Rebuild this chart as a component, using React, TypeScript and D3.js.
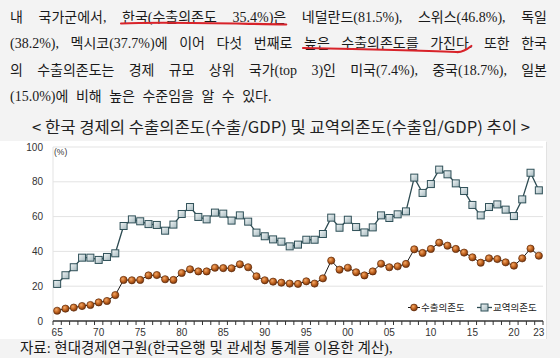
import React, { useRef, useEffect } from 'react';
import * as d3 from 'd3';

// 1965 ~ 2023
const years = d3.range(1965, 2024);

// 수출의존도 (수출/GDP, %)
const exportRatio = [
  5.9, 7.1, 7.7, 8.6, 9.2, 10.7, 11.5, 14.9, 23.6, 23.4,
  23.6, 26.2, 26.4, 24.0, 23.6, 27.6, 29.7, 28.5, 28.5, 30.6,
  30.4, 30.3, 32.6, 30.9, 25.7, 23.4, 22.6, 22.0, 21.5, 21.3,
  22.8, 21.5, 24.5, 34.7, 29.5, 30.6, 28.0, 26.2, 28.5, 32.9,
  30.9, 31.4, 32.8, 41.2, 39.1, 41.4, 45.0, 43.3, 41.4, 39.3,
  36.6, 33.5, 36.0, 35.6, 33.7, 31.8, 36.0, 41.6, 37.5,
];

// 교역의존도 (수출입/GDP, %)
const tradeRatio = [
  21.3, 26.3, 30.9, 36.4, 36.4, 35.1, 36.8, 38.9, 54.6, 58.4,
  57.3, 55.7, 55.2, 51.9, 55.4, 61.5, 65.5, 59.8, 58.4, 62.3,
  61.7, 57.7, 60.7, 57.1, 50.8, 48.7, 46.9, 45.6, 42.9, 43.9,
  46.7, 46.7, 50.0, 59.4, 53.6, 58.2, 54.0, 50.9, 53.8, 60.7,
  59.2, 61.3, 63.0, 82.4, 73.6, 78.7, 87.0, 84.3, 79.1, 74.7,
  66.7, 60.7, 65.5, 67.0, 64.0, 60.3, 69.9, 85.2, 75.1,
];

const yTicks = [0, 20, 40, 60, 80, 100];
const xLabelYears = [1965, 1970, 1975, 1980, 1985, 1990, 1995, 2000, 2005, 2010, 2015, 2020, 2023];
const seriesNames = ['수출의존도', '교역의존도'];

const paragraphLines = [
  '내 국가군에서, 한국(수출의존도 35.4%)은 네덜란드(81.5%), 스위스(46.8%), 독일',
  '(38.2%), 멕시코(37.7%)에 이어 다섯 번째로 높은 수출의존도를 가진다. 또한 한국',
  '의 수출의존도는 경제 규모 상위 국가(top 3)인 미국(7.4%), 중국(18.7%), 일본',
  '(15.0%)에 비해 높은 수준임을 알 수 있다.',
];
// 빨간 펜 밑줄: [줄, 첫 단어, 끝 단어]
const underlines: [number, number, number][] = [[0, 2, 3], [1, 5, 7]];
const chartTitle = '< 한국 경제의 수출의존도(수출/GDP) 및 교역의존도(수출입/GDP) 추이 >';
const sourceText = '자료: 현대경제연구원(한국은행 및 관세청 통계를 이용한 계산),';

const textFont = '"Liberation Serif", "Noto Sans CJK KR", serif';
const sansFont = '"Liberation Sans", "Noto Sans CJK KR", sans-serif';

export default function App() {
  const svgRef = useRef<SVGSVGElement>(null);

  useEffect(() => {
    const svg = d3.select(svgRef.current);
    svg.selectAll('*').remove();
    const width = 560;
    const height = 358;

    // 배경
    svg.append('rect').attr('width', width).attr('height', height).attr('fill', '#f3f3f3');

    const defs = svg.append('defs');
    const ball = defs.append('radialGradient').attr('id', 'ball').attr('cx', '38%').attr('cy', '35%').attr('r', '65%');
    ball.append('stop').attr('offset', '0%').attr('stop-color', '#f3a868');
    ball.append('stop').attr('offset', '55%').attr('stop-color', '#c2641f');
    ball.append('stop').attr('offset', '100%').attr('stop-color', '#7a3810');
    const sq = defs.append('linearGradient').attr('id', 'sq').attr('x1', 0).attr('y1', 0).attr('x2', 1).attr('y2', 1);
    sq.append('stop').attr('offset', '0%').attr('stop-color', '#f2f6f7');
    sq.append('stop').attr('offset', '100%').attr('stop-color', '#a4b8bd');

    // 본문 (양쪽 정렬)
    const paraLeft = 10;
    const paraRight = 547;
    const wordBoxes: { x: number; w: number; y: number }[][] = [];
    paragraphLines.forEach((line, li) => {
      const y = 21.5 + li * 26.5;
      const words = line.split(' ');
      const nodes = words.map(w =>
        svg.append('text')
          .attr('y', y)
          .attr('font-family', textFont)
          .attr('font-size', 14)
          .attr('fill', '#1a1a1a')
          .text(w)
      );
      const widths = nodes.map(n => (n.node() as SVGTextElement).getComputedTextLength());
      const total = d3.sum(widths);
      const isLast = li === paragraphLines.length - 1;
      const gap = isLast ? 7.5 : (paraRight - paraLeft - total) / (words.length - 1);
      let x = paraLeft;
      const boxes: { x: number; w: number; y: number }[] = [];
      nodes.forEach((n, i) => {
        n.attr('x', x);
        boxes.push({ x, w: widths[i], y });
        x += widths[i] + gap;
      });
      wordBoxes.push(boxes);
    });

    // 빨간 밑줄
    const pen = (d: string) =>
      svg.append('path').attr('d', d)
        .attr('fill', 'none').attr('stroke', '#d8232a').attr('stroke-width', 2.2)
        .attr('stroke-linecap', 'round').attr('stroke-linejoin', 'round');
    {
      const [li, a, b] = underlines[0];
      const s = wordBoxes[li][a];
      const e = wordBoxes[li][b];
      const x0 = s.x - 1;
      const x1 = e.x + e.w;
      const yb = s.y;
      pen(`M${x0},${yb + 2} C${x0 + 40},${yb} ${x1 - 60},${yb + 2} ${x1},${yb + 3}`);
    }
    {
      const [li, a, b] = underlines[1];
      const s = wordBoxes[li][a];
      const e = wordBoxes[li][b];
      const x0 = s.x - 1;
      const x1 = e.x + e.w - 4;
      const yb = s.y;
      pen(`M${x0},${yb} C${x0 + 50},${yb + 1} ${x1 - 50},${yb + 2.5} ${x1 - 12},${yb + 4} C${x1 - 6},${yb + 4.5} ${x1 - 2},${yb + 2} ${x1 + 3},${yb - 2}`);
    }

    // 제목
    svg.append('text')
      .attr('x', 32).attr('y', 133)
      .attr('font-family', '"Noto Sans CJK KR", sans-serif')
      .attr('font-size', 16)
      .attr('font-weight', 400)
      .attr('fill', '#222')
      .attr('textLength', 498)
      .attr('lengthAdjust', 'spacingAndGlyphs')
      .text(chartTitle);

    // 차트 패널
    svg.append('rect').attr('x', 0).attr('y', 141).attr('width', 546).attr('height', 198).attr('fill', '#fff');
    svg.append('line').attr('x1', 546.5).attr('x2', 546.5).attr('y1', 142).attr('y2', 339).attr('stroke', '#e2e2e2');

    const margin = { left: 53, right: 543, top: 147, bottom: 321 };
    const x = d3.scaleBand<number>().domain(years).range([margin.left, margin.right]);
    const y = d3.scaleLinear().domain([0, 100]).range([margin.bottom, margin.top]);
    const cx = (yr: number) => (x(yr) as number) + x.bandwidth() / 2;

    // 그리드
    svg.append('g').selectAll('line')
      .data(yTicks.filter(t => t > 0))
      .join('line')
      .attr('x1', margin.left).attr('x2', margin.right)
      .attr('y1', d => y(d)).attr('y2', d => y(d))
      .attr('stroke', '#e3e3e3').attr('stroke-width', 1);
    svg.append('line')
      .attr('x1', margin.left).attr('x2', margin.left)
      .attr('y1', y(100)).attr('y2', y(0))
      .attr('stroke', '#e3e3e3');

    // y축 라벨
    svg.append('g').selectAll('text')
      .data(yTicks)
      .join('text')
      .attr('x', 43).attr('y', d => y(d) + 3.5)
      .attr('text-anchor', 'end')
      .attr('font-family', sansFont).attr('font-size', 10).attr('fill', '#333')
      .text(d => d);
    svg.append('text')
      .attr('x', 54).attr('y', 155)
      .attr('font-family', sansFont).attr('font-size', 8.5).attr('fill', '#333')
      .text('(%)');

    // x축
    svg.append('line')
      .attr('x1', margin.left).attr('x2', margin.right)
      .attr('y1', margin.bottom).attr('y2', margin.bottom)
      .attr('stroke', '#333').attr('stroke-width', 1.5);
    const tickPos = years.map(yr => x(yr) as number).concat([margin.right]);
    svg.append('g').selectAll('line')
      .data(tickPos)
      .join('line')
      .attr('x1', d => d).attr('x2', d => d)
      .attr('y1', margin.bottom).attr('y2', margin.bottom + 4)
      .attr('stroke', '#333').attr('stroke-width', 1);
    svg.append('g').selectAll('text')
      .data(xLabelYears)
      .join('text')
      .attr('x', d => cx(d)).attr('y', 336)
      .attr('text-anchor', 'middle')
      .attr('font-family', sansFont).attr('font-size', 10).attr('fill', '#333')
      .text(d => String(d).slice(2));

    // 교역의존도
    const seriesLine = d3.line<number>().x((_, i) => cx(years[i])).y(d => y(d));
    svg.append('path')
      .attr('d', seriesLine(tradeRatio))
      .attr('fill', 'none').attr('stroke', '#2d4b52').attr('stroke-width', 1.3);
    svg.append('g').selectAll('rect')
      .data(tradeRatio)
      .join('rect')
      .attr('x', (_, i) => cx(years[i]) - 3.5)
      .attr('y', d => y(d) - 3.5)
      .attr('width', 7).attr('height', 7)
      .attr('fill', 'url(#sq)').attr('stroke', '#2f5058').attr('stroke-width', 1);

    // 수출의존도
    svg.append('path')
      .attr('d', seriesLine(exportRatio))
      .attr('fill', 'none').attr('stroke', '#1a1a1a').attr('stroke-width', 1);
    svg.append('g').selectAll('circle')
      .data(exportRatio)
      .join('circle')
      .attr('cx', (_, i) => cx(years[i]))
      .attr('cy', d => y(d))
      .attr('r', 3.6)
      .attr('fill', 'url(#ball)').attr('stroke', '#5e2a08').attr('stroke-width', 0.7);

    // 범례
    const ly = 307.5;
    const lg = svg.append('g');
    lg.append('line').attr('x1', 408).attr('x2', 420).attr('y1', ly).attr('y2', ly).attr('stroke', '#1a1a1a');
    lg.append('circle').attr('cx', 414).attr('cy', ly).attr('r', 3.4)
      .attr('fill', 'url(#ball)').attr('stroke', '#5e2a08').attr('stroke-width', 0.7);
    lg.append('text').attr('x', 421).attr('y', ly + 3.5)
      .attr('font-family', sansFont).attr('font-size', 9.5).attr('fill', '#222')
      .text(seriesNames[0]);
    lg.append('line').attr('x1', 477).attr('x2', 492).attr('y1', ly).attr('y2', ly).attr('stroke', '#2d4b52').attr('stroke-width', 1.3);
    lg.append('rect').attr('x', 481).attr('y', ly - 3.5).attr('width', 7).attr('height', 7)
      .attr('fill', 'url(#sq)').attr('stroke', '#2f5058');
    lg.append('text').attr('x', 493).attr('y', ly + 3.5)
      .attr('font-family', sansFont).attr('font-size', 9.5).attr('fill', '#222')
      .text(seriesNames[1]);

    // 자료
    svg.append('text')
      .attr('x', 20).attr('y', 353)
      .attr('font-family', textFont).attr('font-size', 14.5).attr('fill', '#1a1a1a')
      .text(sourceText);
  }, []);

  return (
    <svg
      ref={svgRef}
      width={560}
      height={358}
      style={{ position: 'absolute', left: 0, top: 0, display: 'block' }}
    />
  );
}
